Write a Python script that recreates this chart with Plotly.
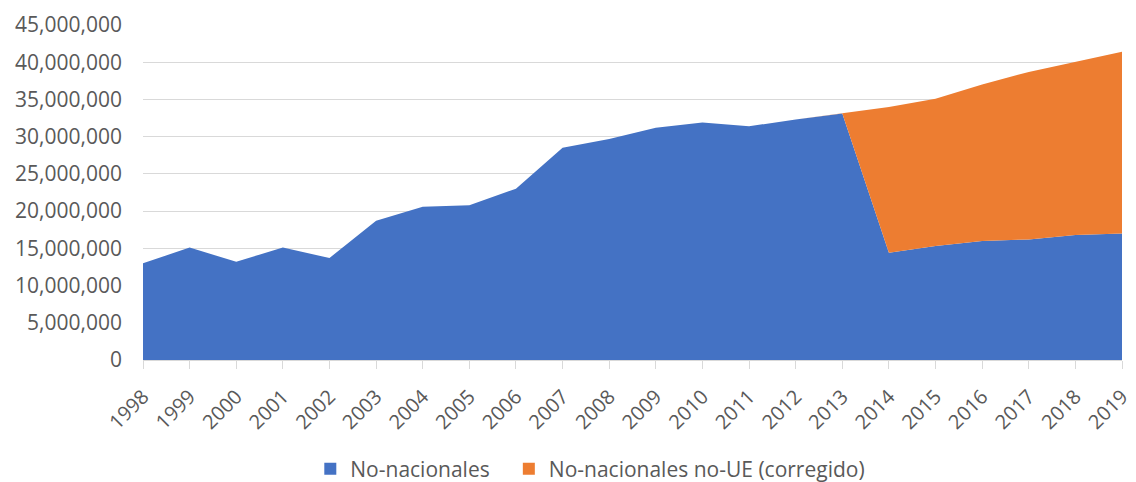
import plotly.graph_objects as go

# Values (millions)
years = list(range(1998, 2020))
no_nacionales = [13.0, 15.1, 13.2, 15.1, 13.7, 18.7, 20.6, 20.8, 23.0, 28.5, 29.7,
                 31.2, 31.9, 31.4, 32.3, 33.1, 14.4, 15.3, 16.0, 16.2, 16.8, 17.0]
no_ue_corregido = [0, 0, 0, 0, 0, 0, 0, 0, 0, 0, 0,
                   0, 0, 0, 0, 0, 19.6, 19.8, 21.0, 22.5, 23.2, 24.4]

# millions -> persons
no_nacionales = [v * 1e6 for v in no_nacionales]
no_ue_corregido = [v * 1e6 for v in no_ue_corregido]

blue = '#4472C4'
orange = '#ED7D31'

fig = go.Figure()
fig.add_trace(go.Scatter(x=years, y=no_nacionales, name='No-nacionales',
                         mode='lines', stackgroup='one', showlegend=False,
                         line=dict(width=0, color=blue), fillcolor=blue))
fig.add_trace(go.Scatter(x=years, y=no_ue_corregido, name='No-nacionales no-UE (corregido)',
                         mode='lines', stackgroup='one', showlegend=False,
                         line=dict(width=0, color=orange), fillcolor=orange))

# square legend keys like the Excel original, one legend box each
fig.add_trace(go.Scatter(x=[None], y=[None], mode='markers', name='No-nacionales',
                         marker=dict(symbol='square', size=14, color=blue), legend='legend'))
fig.add_trace(go.Scatter(x=[None], y=[None], mode='markers',
                         name='No-nacionales no-UE (corregido)',
                         marker=dict(symbol='square', size=14, color=orange), legend='legend2'))

leg = dict(orientation='h', xref='container', yref='container', xanchor='left',
           y=0.027, yanchor='middle', font=dict(size=21, color='#595959'),
           itemwidth=30, itemsizing='constant')

# page body has an 8px margin, so the figure is offset by 8px
fig.update_layout(
    width=1128, height=474,
    margin=dict(l=135, r=14, t=17, b=122),
    plot_bgcolor='white',
    paper_bgcolor='white',
    font=dict(family='Open Sans, sans-serif', size=21, color='#595959'),
    showlegend=True,
    legend=dict(leg, x=0.268),
    legend2=dict(leg, x=0.444),
)
fig.update_xaxes(range=[1998, 2019], tickvals=years, ticktext=[str(y) for y in years],
                 tickangle=-45, showgrid=False, showline=True, linecolor='#d9d9d9',
                 ticks='outside', tickcolor='#d9d9d9', ticklen=8, zeroline=False,
                 automargin=False, ticklabelstandoff=8, ticklabeloverflow='allow',
                 tickfont=dict(size=20))
fig.update_yaxes(range=[0, 45e6], dtick=5e6, tickformat=',d', showgrid=True,
                 gridcolor='#d9d9d9', gridwidth=1, zeroline=False, ticks='',
                 ticklabelstandoff=20, automargin=False)

fig.write_html("out.html", default_width='1128px', default_height='474px')
